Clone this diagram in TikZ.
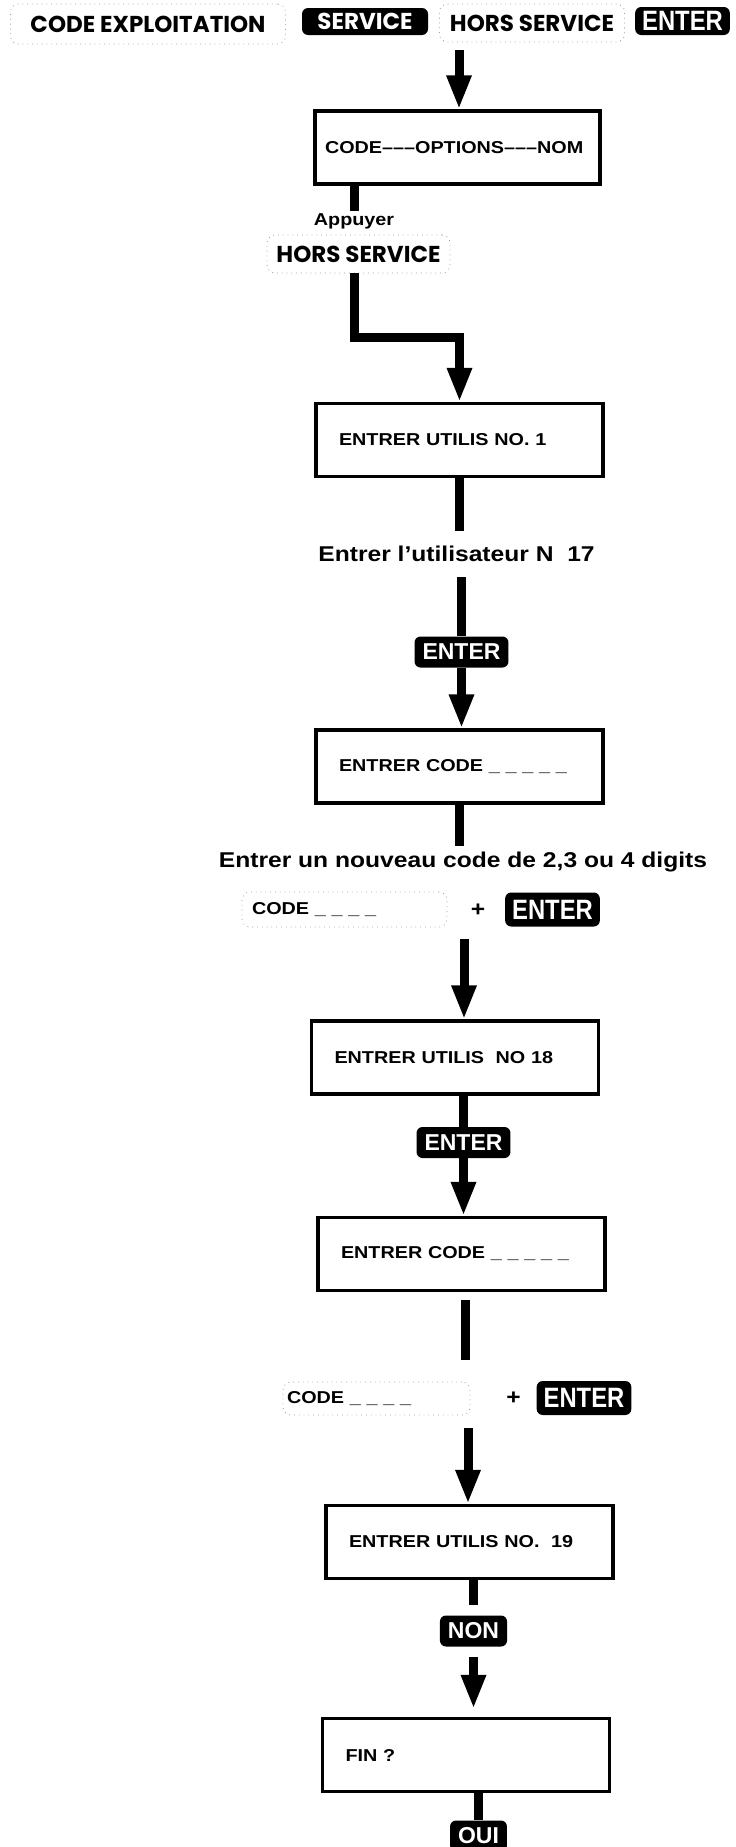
\documentclass[tikz,border=0pt]{standalone}
\usepackage{fontspec}
\usepackage{tikz}
\usetikzlibrary{arrows.meta}

\setmainfont{Liberation Sans}
\newfontfamily\widefont{Liberation Sans}[FakeStretch=1.15]
\newfontfamily\narrowfont{Liberation Sans}[FakeStretch=0.85]
\newfontfamily\geofont{Poppins}

\begin{document}
\begin{tikzpicture}[
    x=0.5pt, y=-0.5pt, % one unit per pixel of the scan, y going down
    > = {Triangle[width=11.5pt,length=17pt]}, % arrow head style
    flow/.style={line width=4.5pt, line join=miter},
    screen/.style={draw, line width=1.6pt, minimum height=36.5pt, text width=120.5pt,
        inner xsep=11.5pt, align=left, font=\widefont\bfseries\fontsize{8.6}{10}\selectfont},
    keycap/.style={fill=black, text=white, rounded corners=3pt, inner xsep=4pt, inner ysep=0pt,
        minimum height=15.5pt, font=\bfseries\fontsize{11.5}{12}\selectfont},
    bigkey/.style={keycap, inner xsep=3.5pt, minimum height=17pt,
        font=\narrowfont\bfseries\fontsize{14}{14}\selectfont},
    geokey/.style={keycap, minimum width=63pt, minimum height=13.5pt,
        font=\geofont\bfseries\fontsize{11.5}{12}\selectfont},
    softkey/.style={draw=black!40, dotted, rounded corners=4pt, inner ysep=0pt,
        font=\geofont\bfseries\fontsize{11.5}{12}\selectfont},
    typed/.style={softkey, align=left, inner xsep=5pt, font=\widefont\bfseries\fontsize{8.6}{10}\selectfont},
    note/.style={inner xsep=0pt, font=\widefont\bfseries\fontsize{10.7}{12}\selectfont}
]
\useasboundingbox (0,0) rectangle (735,1847);

% Keys on top
\node[softkey, minimum width=137.5pt, minimum height=20pt] (exploit) at (148,24) {CODE EXPLOITATION};
\node[geokey] (service) at (365,21.5) {SERVICE};
\node[softkey, minimum width=92.5pt, minimum height=19pt] (horstop) at (532,23) {HORS SERVICE};
\node[bigkey, minimum height=14pt] (entertop) at (682.5,21) {ENTER};

% Screens
\node[screen, inner xsep=5pt, text width=132.5pt] (menu) at (457.5,147.5) {CODE–––OPTIONS–––NOM};
\node[screen] (user1) at (459.5,440) {ENTRER UTILIS NO. 1};
\node[screen] (code1) at (459.5,766.5) {ENTRER CODE \_ \_ \_ \_ \_};
\node[screen] (user18) at (455,1057.5) {ENTRER UTILIS~~NO 18};
\node[screen] (code18) at (461.5,1254) {ENTRER CODE \_ \_ \_ \_ \_};
\node[screen] (user19) at (469.5,1542) {ENTRER UTILIS NO.~~19};
\node[screen] (fin) at (466,1755) {FIN ?};

% What to press
\node[note, inner ysep=1pt, font=\widefont\bfseries\fontsize{8.6}{10}\selectfont] (press) at (354,221) {Appuyer};
\node[softkey, minimum width=91.5pt, minimum height=19pt] (hors) at (358.5,254) {HORS SERVICE};
\node[note, inner ysep=7.5pt] (userno) at (456.5,554) {Entrer l’utilisateur N~~17};
\node[keycap] (enter1) at (461.5,652) {ENTER};
\node[note, inner ysep=3pt] (newcode) at (463,862) {Entrer un nouveau code de 2,3 ou 4 digits};
\node[typed, minimum height=17.5pt, text width=92.5pt] (typed1) at (344.5,909.5) {CODE \_ \_ \_ \_};
\node[note] (plus1) at (478,910) {+};
\node[bigkey] (enter2) at (552.5,909.5) {ENTER};
\node[keycap] (enter3) at (463.5,1142.5) {ENTER};
\node[typed, inner xsep=2pt, minimum height=16.5pt, text width=89.5pt] (typed2) at (376.5,1398.5) {CODE \_ \_ \_ \_};
\node[note] (plus2) at (513.5,1398) {+};
\node[bigkey] (enter4) at (584,1398) {ENTER};
\node[keycap] (non) at (473.5,1631) {NON};
\node[keycap] (oui) at (478.5,1836) {OUI};

% Free ends
\coordinate (start) at (459,50);
\coordinate (bend) at (354,337);
\coordinate (from1) at (464,939);
\coordinate (to2) at (465,1360);
\coordinate (from2) at (468,1428);

% Edges
\draw[flow,->] (start) -- (start |- menu.north);
\draw[flow] (menu.south -| press) -- (press.north);
\draw[flow,->] (hors.south -| bend) -- (bend) -| (user1.north);
\draw[flow] (user1.south) -- (user1.south |- userno.north);
\draw[flow] (userno.south -| enter1) -- (enter1.north);
\draw[flow,->] (enter1.south) -- (enter1.south |- code1.north);
\draw[flow] (code1.south) -- (code1.south |- newcode.north);
\draw[flow,->] (from1) -- (from1 |- user18.north);
\draw[flow] (user18.south -| enter3) -- (enter3.north);
\draw[flow,->] (enter3.south) -- (enter3.south |- code18.north);
\draw[flow, shorten <=4pt] (code18.south -| to2) -- (to2);
\draw[flow,->] (from2) -- (from2 |- user19.north);
\draw[flow, shorten >=5pt] (user19.south -| non) -- (non.north);
\draw[flow,->, shorten <=5pt, shorten >=4pt] (non.south) -- (non.south |- fin.north);
\draw[flow] (fin.south -| oui) -- (oui.north);

\end{tikzpicture}
\end{document}
